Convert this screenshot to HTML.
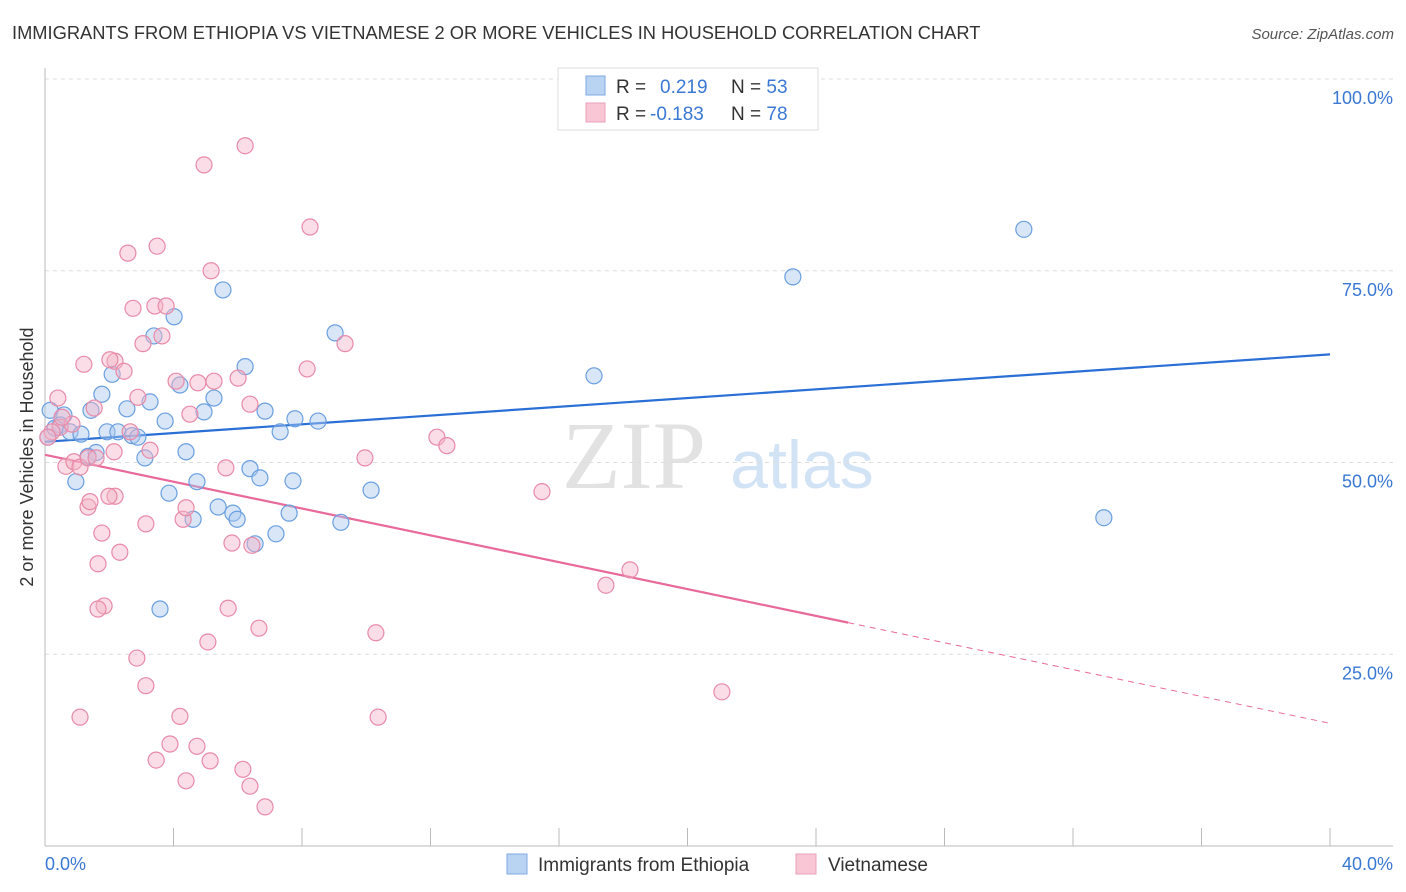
<!DOCTYPE html>
<html><head><meta charset="utf-8"><style>
body{margin:0;background:#fff;font-family:"Liberation Sans",sans-serif}
svg{display:block}
</style></head><body>
<svg id="c" width="1406" height="892">
<text x="12" y="39" font-size="18.3" fill="#333">IMMIGRANTS FROM ETHIOPIA VS VIETNAMESE 2 OR MORE VEHICLES IN HOUSEHOLD CORRELATION CHART</text>
<text x="1394" y="39" font-size="15" fill="#555" font-style="italic" text-anchor="end">Source: ZipAtlas.com</text>
<g>
<text x="634" y="488" font-size="96" font-family="Liberation Serif,serif" fill="#e2e2e2" text-anchor="middle">ZIP</text>
<text x="802" y="488" font-size="68" fill="#d2e3f5" text-anchor="middle">atlas</text>
</g>
<text transform="translate(33,457) rotate(-90)" font-size="18" fill="#333" text-anchor="middle">2 or more Vehicles in Household</text>
<g id="grid"></g><g id="ticks"></g><g id="lines"></g><g id="pts"></g>
<g>
<rect x="558" y="68" width="260" height="62" fill="#fff" stroke="#ddd"/>
<rect x="586" y="76" width="19" height="19" fill="#b9d3f3" stroke="#7ea9e3"/>
<rect x="586" y="103" width="19" height="19" fill="#f8c6d5" stroke="#eba0b8"/>
<text x="616" y="93" font-size="19" fill="#333">R = <tspan fill="#3a78d4" x="660">0.219</tspan><tspan fill="#333" x="731">N = </tspan><tspan fill="#3a78d4">53</tspan></text>
<text x="616" y="120" font-size="19" fill="#333">R = <tspan fill="#3a78d4" x="650">-0.183</tspan><tspan fill="#333" x="731">N = </tspan><tspan fill="#3a78d4">78</tspan></text>
</g>
<g>
<rect x="507" y="854" width="20" height="20" fill="#b9d3f3" stroke="#7ea9e3"/>
<text x="538" y="871" font-size="19" fill="#333">Immigrants from Ethiopia</text>
<rect x="796" y="854" width="20" height="20" fill="#f8c6d5" stroke="#eba0b8"/>
<text x="828" y="871" font-size="19" fill="#333">Vietnamese</text>
</g>
</svg>
<script>
const yTicks=[25,50,75,100];
const yTickLabels=["25.0%","50.0%","75.0%","100.0%"];
const xTicks=[0,4,8,12,16,20,24,28,32,36,40];
const blueX=[0.16,0.59,0.47,0.78,1.12,1.59,0.96,1.34,1.77,1.43,2.09,1.93,2.27,2.55,2.71,2.89,3.27,3.11,3.39,3.74,4.02,4.20,4.39,3.86,4.73,4.61,4.95,5.26,5.54,5.39,5.85,5.98,6.23,6.38,6.54,6.69,6.85,7.19,7.32,7.60,7.72,7.78,8.50,9.03,9.21,10.15,3.58,17.09,23.28,30.47,32.96,0.09,0.31];
const blueY=[56.8,56.2,54.9,54.0,53.7,51.3,47.5,50.8,58.9,56.8,61.5,54.0,54.0,57.0,53.5,53.3,57.9,50.6,66.5,55.4,69.0,60.1,51.4,46.0,47.5,42.6,56.6,58.4,72.5,44.2,43.4,42.6,62.5,49.2,39.4,48.0,56.7,40.7,54.0,43.4,47.6,55.7,55.4,66.9,42.2,46.4,30.9,61.3,74.2,80.4,42.8,53.3,54.5];
const pinkX=[0.40,0.47,0.22,0.09,0.84,0.65,0.90,1.09,1.34,1.21,1.53,1.59,1.34,1.40,2.18,2.02,2.46,2.15,2.58,2.74,2.65,2.89,3.05,3.27,3.14,2.18,2.33,1.65,1.84,1.65,3.49,3.42,3.64,3.77,4.08,4.30,4.39,4.51,4.76,4.95,5.17,5.26,5.63,5.82,6.01,6.23,6.38,6.44,8.25,8.16,9.34,9.96,12.20,12.51,15.47,17.46,18.21,21.07,1.09,2.86,3.14,5.07,5.70,6.66,10.30,10.37,3.46,3.89,4.20,4.39,4.73,5.14,6.16,6.38,6.85,0.53,1.77,1.99];
const pinkY=[58.4,54.6,54.0,53.3,55.0,49.5,50.1,49.4,50.6,62.8,57.1,50.6,44.2,44.9,63.2,63.4,61.9,51.4,77.3,70.1,54.0,58.5,65.5,51.6,42.0,45.6,38.3,36.8,31.3,30.9,78.2,70.4,66.5,70.4,60.6,42.6,44.1,56.3,60.4,88.8,75.0,60.6,49.3,39.5,61.0,91.3,57.6,39.2,80.7,62.2,65.5,50.6,53.3,52.2,46.2,34.0,36.0,20.1,16.8,24.5,20.9,26.6,31.0,28.4,27.8,16.8,11.2,13.3,16.9,8.5,13.0,11.1,10.0,7.8,5.1,55.9,40.8,45.6];
const blueTrend=[52.7,64.1];
const pinkTrend=[51.0,16.0];
const pinkSolidEnd=25.0;
const NS="http://www.w3.org/2000/svg";
const X=v=>45+v/40*1285, Y=v=>846-v/100*767;
function mk(t,a,p){const e=document.createElementNS(NS,t);for(const k in a)e.setAttribute(k,a[k]);p.appendChild(e);return e;}
const grid=document.getElementById('grid'),ticks=document.getElementById('ticks'),lines=document.getElementById('lines'),pts=document.getElementById('pts');
yTicks.forEach((t,i)=>{
 const g=mk('line',{x1:45,x2:1393,y1:Y(t),y2:Y(t),stroke:'#ddd','stroke-dasharray':'4,4'},grid);
 
 
 const l=mk('text',{x:1393,y:Y(t)+25,'font-size':18,fill:'#3a78d4','text-anchor':'end'},ticks);l.textContent=yTickLabels[i];
 
 
});
mk('line',{x1:45,x2:1393,y1:79,y2:79,stroke:'#ddd','stroke-dasharray':'4,4'},grid);
mk('line',{x1:45,x2:45,y1:68,y2:846,stroke:'#bbb'},ticks);
mk('line',{x1:45,x2:1393,y1:846,y2:846,stroke:'#bbb'},ticks);
xTicks.forEach(t=>{
 const k=mk('line',{x1:X(t),x2:X(t),y1:828,y2:846,stroke:'#bbb'},ticks);
 
 
});
const x0=mk('text',{x:45,y:870,'font-size':18,fill:'#3a78d4'},ticks);x0.textContent='0.0%';


const x1=mk('text',{x:1393,y:870,'font-size':18,fill:'#3a78d4','text-anchor':'end'},ticks);x1.textContent='40.0%';


function dot(x,y,f,s,n){const c=mk('circle',{cx:X(x),cy:Y(y),r:8,fill:f,'fill-opacity':0.45,stroke:s,'stroke-width':1.2},pts);
 
 }
blueX.forEach((x,i)=>dot(x,blueY[i],'#a8c8f0','#6a9fe0','ethiopia-point'));
pinkX.forEach((x,i)=>dot(x,pinkY[i],'#f5b3c8','#e88aa8','vietnamese-point'));
const bl=mk('line',{x1:X(0),y1:Y(blueTrend[0]),x2:X(40),y2:Y(blueTrend[1]),stroke:'#2a6fd6','stroke-width':2.2},lines);


const pAt=x=>pinkTrend[0]+(pinkTrend[1]-pinkTrend[0])*x/40;
const pl=mk('line',{x1:X(0),y1:Y(pinkTrend[0]),x2:X(pinkSolidEnd),y2:Y(pAt(pinkSolidEnd)),stroke:'#e8699a','stroke-width':2.2},lines);


const pd=mk('line',{x1:X(pinkSolidEnd),y1:Y(pAt(pinkSolidEnd)),x2:X(40),y2:Y(pinkTrend[1]),stroke:'#e8699a','stroke-width':1,'stroke-dasharray':'6,5'},lines);


</script>
</body></html>
